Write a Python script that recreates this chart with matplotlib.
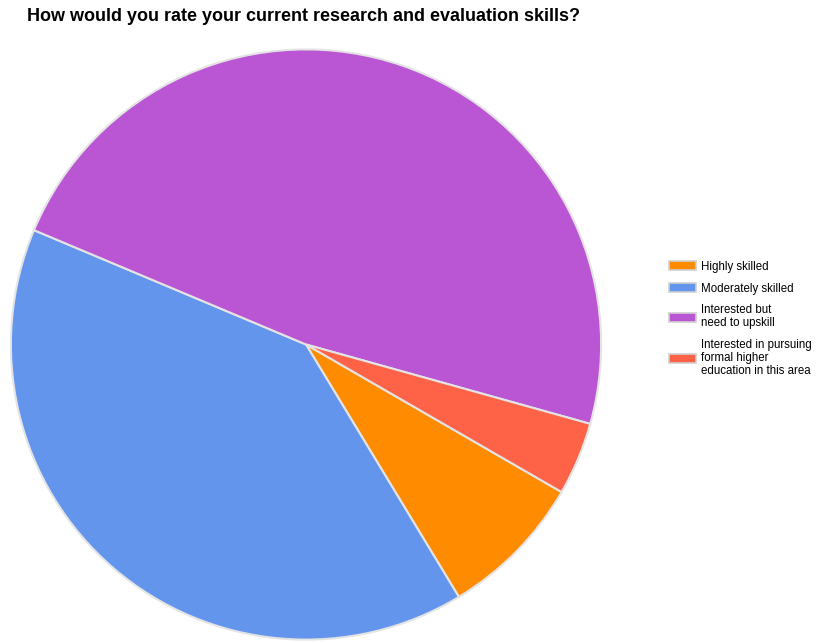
import matplotlib
matplotlib.use("Agg")
import matplotlib.pyplot as plt
from matplotlib.patches import Patch

# survey responses (count of respondents per answer)
labels = ["Highly skilled", "Moderately skilled",
          "Interested but\nneed to upskill",
          "Interested in pursuing\nformal higher\neducation in this area"]
counts = [2, 10, 12, 1]
colors = ["#FF8C00", "#6495ED", "#BA55D3", "#FF6347"]

plt.rcParams['font.family'] = ['Liberation Sans', 'DejaVu Sans']

fig = plt.figure(figsize=(8.24, 6.43), dpi=100)
fig.patch.set_facecolor("white")

# pie area, in figure fractions
ax = fig.add_axes([10 / 824, 2 / 643, 592 / 824, 593 / 643])
ax.pie(counts, colors=colors, startangle=-30, counterclock=False,
       radius=1.0,
       wedgeprops=dict(edgecolor="#E4E4E4", linewidth=1.5))
ax.set_xlim(-1.003, 1.003)
ax.set_ylim(-1.003, 1.003)
ax.set_aspect("equal")
ax.axis("off")

fig.text(27 / 824, 1 - 8 / 643, "How would you rate your current research and evaluation skills?",
         fontsize=13, fontweight="bold", va="top", ha="left")

handles = [Patch(facecolor=c, edgecolor="#D0D0D0", linewidth=1.2) for c in colors]
leg = fig.legend(handles, labels, loc="upper left",
                 bbox_to_anchor=(663 / 824, 1 - 255 / 643),
                 frameon=False, fontsize=8.3, handlelength=2.4, handleheight=0.85,
                 handletextpad=0.4, labelspacing=0.85, borderpad=0.0)
for t in leg.get_texts():
    t.set_linespacing(1.1)

fig.savefig("out.png", dpi=100)
